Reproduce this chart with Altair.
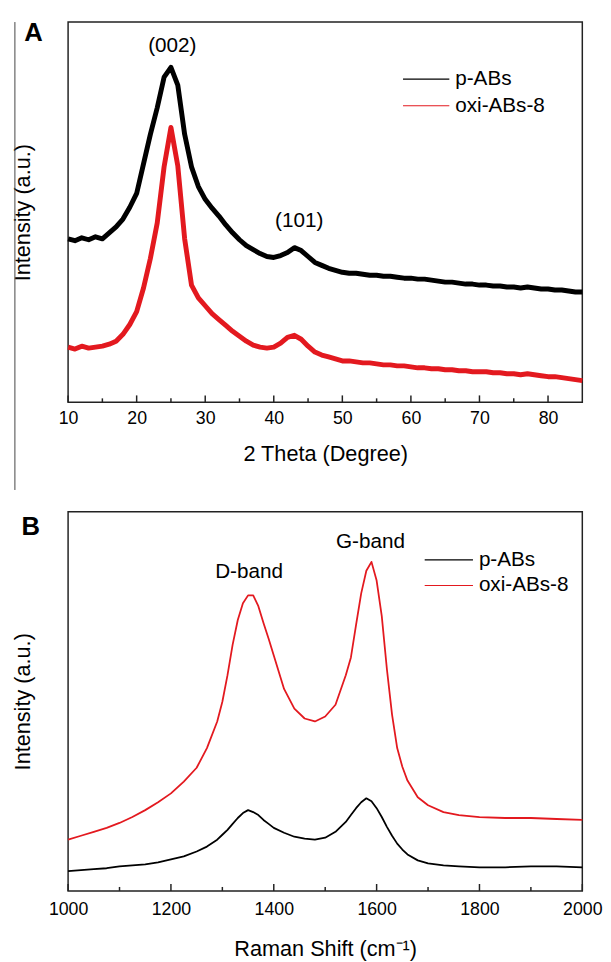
import altair as alt
import pandas as pd

FONT = "Liberation Sans"
COLORS = ["#000000", "#e3191f"]
series_names = ["p-ABs", "oxi-ABs-8"]

# ---------------- Panel A: XRD ----------------
xrd_theta = list(range(10, 86))
xrd_pabs = [166, 164, 167, 165, 168, 166, 172, 178, 186, 198,
            212, 242, 272, 299, 330, 340, 322, 272, 239, 219,
            206, 197, 189, 180, 172, 165, 159, 155, 151, 148,
            147, 149, 152, 157, 154, 148, 142, 139, 136, 134,
            132, 131, 131, 130, 129, 129, 128, 128, 127, 126,
            126, 125, 125, 124, 123, 122, 122, 121, 120, 120,
            119, 119, 118, 118, 117, 117, 116, 117, 116, 115,
            115, 114, 114, 113, 112, 112]
xrd_oxi = [56, 54, 57, 55, 56, 57, 59, 62, 69, 79,
           92, 116, 146, 182, 239, 279, 240, 166, 119, 106,
           98, 90, 84, 78, 72, 67, 62, 58, 56, 55,
           56, 60, 66, 68, 64, 57, 51, 48, 46, 44,
           42, 42, 41, 40, 40, 39, 38, 38, 37, 37,
           36, 35, 35, 34, 34, 33, 33, 32, 32, 31,
           31, 31, 30, 30, 29, 29, 28, 29, 28, 27,
           26, 26, 25, 24, 23, 22]
xrd_peak_labels = ["(002)", "(101)"]
xrd_peak_theta = [25.2, 43.7]
xrd_peak_h = [362, 184]
xrd_major = [10, 20, 30, 40, 50, 60, 70, 80]
xrd_minor = [15, 25, 35, 45, 55, 65, 75]

# ---------------- Panel B: Raman ----------------
raman_shift = [1000, 1025, 1050, 1075, 1100, 1125, 1150, 1175, 1200, 1225,
               1250, 1270, 1290, 1300, 1310, 1320, 1330, 1340, 1350, 1360,
               1370, 1380, 1390, 1400, 1420, 1440, 1460, 1480, 1500, 1520,
               1540, 1550, 1560, 1570, 1580, 1590, 1600, 1610, 1620, 1630,
               1640, 1650, 1660, 1680, 1700, 1730, 1760, 1800, 1850, 1900,
               1950, 2000]
raman_pabs = [20, 21, 22, 23, 25, 26, 27, 29, 32, 35,
              40, 45, 52, 57, 62, 68, 74, 79, 82, 80,
              77, 72, 68, 64, 59, 55, 53, 52, 54, 60,
              70, 77, 84, 90, 94, 91, 84, 75, 65, 56,
              48, 42, 37, 31, 28, 26, 25, 24, 24, 25,
              25, 24]
raman_oxi = [52, 56, 60, 64, 69, 75, 82, 90, 99, 111,
             125, 145, 172, 192, 219, 250, 275, 292, 300, 300,
             289, 272, 256, 239, 205, 185, 175, 172, 177, 189,
             219, 237, 270, 302, 325, 334, 315, 279, 225, 179,
             145, 126, 112, 95, 87, 80, 77, 75, 74, 74,
             73, 72]
raman_band_labels = ["D-band", "G-band"]
raman_band_shift = [1352, 1588]
raman_band_h = [324, 354]
raman_major = [1000, 1200, 1400, 1600, 1800, 2000]
raman_minor = [1100, 1300, 1500, 1700, 1900]

W = 522


def long_df(xs, a, b):
    rows = []
    for name, ys in zip(series_names, [a, b]):
        for x, y in zip(xs, ys):
            rows.append({"x": x, "h": y, "series": name})
    return pd.DataFrame(rows)


def panel(df, height, x_dom, x_title, major, minor, ann_x, ann_h, ann_t,
          letter, letter_xy, leg_x, leg_y, leg_len, leg_step, sw,
          label_pad, title_pad, separator):
    xscale = alt.Scale(domain=x_dom, nice=False, zero=False)
    yscale = alt.Scale(domain=[0, height], nice=False, zero=False)
    xaxis = alt.Axis(
        title=x_title, values=major, format="d", ticks=False, tickSize=0,
        domain=False, grid=False, labelFontSize=18, labelFont=FONT,
        labelColor="black", labelPadding=label_pad, labelFlush=False,
        titleFontSize=22, titleFont=FONT, titleFontWeight="normal",
        titleColor="black", titlePadding=title_pad)
    yaxis = alt.Axis(
        title="Intensity (a.u.)", labels=False, ticks=False, tickSize=0,
        domain=False, grid=False, titleFontSize=22, titleFont=FONT,
        titleFontWeight="normal", titleColor="black", titlePadding=34)
    X = lambda: alt.X("x:Q", scale=xscale, axis=xaxis, title=x_title)
    Y = lambda: alt.Y("h:Q", scale=yscale, axis=yaxis, title="Intensity (a.u.)")

    lines = alt.Chart(df).mark_line(strokeWidth=sw, strokeJoin="round").encode(
        x=X(), y=Y(),
        color=alt.Color("series:N", scale=alt.Scale(domain=series_names, range=COLORS),
                        legend=None),
        order=alt.Order("x:Q"),
    )
    ann = alt.Chart(pd.DataFrame({"x": ann_x, "h": ann_h, "t": ann_t})).mark_text(
        fontSize=21, font=FONT, color="black", baseline="middle").encode(
        x=X(), y=Y(), text="t:N")
    maj = alt.Chart(pd.DataFrame({"x": major})).mark_rule(
        color="#222", strokeWidth=1.5).encode(
        x=X(), y=alt.value(height), y2=alt.value(height - 7))
    mnr = alt.Chart(pd.DataFrame({"x": minor})).mark_rule(
        color="#222", strokeWidth=1.5).encode(
        x=X(), y=alt.value(height), y2=alt.value(height - 4))
    lab = alt.Chart(pd.DataFrame({"t": [letter]})).mark_text(
        fontSize=26, fontWeight="bold", font=FONT, color="black",
        align="center", baseline="middle").encode(
        text="t:N", x=alt.value(letter_xy[0]), y=alt.value(letter_xy[1]))
    layers = [lines, ann, maj, mnr, lab]
    for i, name in enumerate(series_names):
        layers.append(alt.Chart(pd.DataFrame({"s": [name]})).mark_rule(
            color=COLORS[i], strokeWidth=1.2).encode(
            x=alt.value(leg_x), x2=alt.value(leg_x + leg_len),
            y=alt.value(leg_y + leg_step * i)))
        layers.append(alt.Chart(pd.DataFrame({"s": [name]})).mark_text(
            fontSize=21, font=FONT, color="black", align="left",
            baseline="middle").encode(
            text="s:N", x=alt.value(leg_x + leg_len + 6),
            y=alt.value(leg_y + leg_step * i)))
    if separator:
        layers.append(alt.Chart(pd.DataFrame({"s": [0]})).mark_rule(
            color="#444", strokeWidth=1).encode(
            x=alt.value(-54), y=alt.value(0), y2=alt.value(475)))
    return alt.layer(*layers).properties(width=W, height=height)


chart_a = panel(long_df(xrd_theta, xrd_pabs, xrd_oxi), 386, [10, 85],
                "2 Theta (Degree)", xrd_major, xrd_minor,
                xrd_peak_theta, xrd_peak_h, xrd_peak_labels,
                "A", (-35, 11), 340, 58, 47, 27, 5, 8, 16, True)
chart_b = panel(long_df(raman_shift, raman_pabs, raman_oxi), 385, [1000, 2000],
                "Raman Shift (cm⁻¹)", raman_major, raman_minor,
                raman_band_shift, raman_band_h, raman_band_labels,
                "B", (-38, 16), 362, 49, 49, 26, 1.8, 10, 21, False)

chart = alt.vconcat(chart_a, chart_b, spacing=19).resolve_scale(
    x="independent", y="independent", color="independent"
).properties(
    padding={"left": 3, "top": 4, "right": 0, "bottom": 0}
).configure_view(stroke="#222", strokeWidth=1.5)

chart.save("out.html", embed_options={"renderer": "svg", "actions": False})
